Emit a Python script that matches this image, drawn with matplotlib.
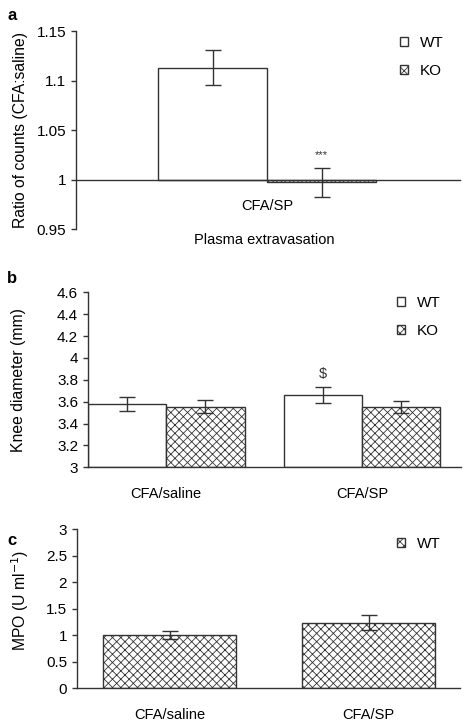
import matplotlib
matplotlib.use('Agg')
import matplotlib.pyplot as plt
from matplotlib.patches import Patch

plt.rcParams['font.family'] = ['Liberation Sans', 'DejaVu Sans']
plt.rcParams['hatch.linewidth'] = 0.6

EDGE = '#333333'

# Panel a: plasma extravasation ratio
a_groups = ['WT', 'KO']
a_vals = [1.113, 0.997]
a_err_hi = [0.018, 0.015]
a_err_lo = [0.018, 0.015]
a_yticks = [0.95, 1.0, 1.05, 1.1, 1.15]
a_yticklabels = ['0.95', '1', '1.05', '1.1', '1.15']

# Panel b: knee diameter
b_cats = ['CFA/saline', 'CFA/SP']
b_wt = [3.579, 3.661]
b_wt_err = [0.067, 0.07]
b_ko = [3.554, 3.554]
b_ko_err = [0.058, 0.053]
b_yticks = [3, 3.2, 3.4, 3.6, 3.8, 4, 4.2, 4.4, 4.6]
b_yticklabels = ['3', '3.2', '3.4', '3.6', '3.8', '4', '4.2', '4.4', '4.6']

# Panel c: MPO
c_cats = ['CFA/saline', 'CFA/SP']
c_wt = [1.0, 1.24]
c_wt_err = [0.078, 0.142]
c_yticks = [0, 0.5, 1, 1.5, 2, 2.5, 3]
c_yticklabels = ['0', '0.5', '1', '1.5', '2', '2.5', '3']

FS = 10.5     # category / x labels
TFS = 11      # tick labels and legends
LFS = 11.3    # y labels


def style_axis(ax):
    ax.spines['top'].set_visible(False)
    ax.spines['right'].set_visible(False)
    for s in ('left', 'bottom'):
        ax.spines[s].set_color(EDGE)
        ax.spines[s].set_linewidth(1.0)
    ax.tick_params(axis='y', direction='out', length=3.6, width=1, color=EDGE,
                   labelsize=TFS, pad=3.5)
    ax.tick_params(axis='x', length=0, labelsize=FS, pad=14)


def add_legend(ax, handles, x_px, y_px):
    ax.legend(handles=handles, loc='upper left',
              bbox_to_anchor=(x_px / 468, 1 - y_px / 722),
              bbox_transform=fig.transFigure, frameon=False, fontsize=TFS,
              borderpad=0, borderaxespad=0, handlelength=0.55,
              handleheight=0.55, handletextpad=0.75, labelspacing=0.9)


fig = plt.figure(figsize=(4.68, 7.22), dpi=100)

wt_patch = Patch(facecolor='white', edgecolor=EDGE, label='WT')
ko_patch = Patch(facecolor='white', edgecolor=EDGE, hatch='xxxx', label='KO')

# ---------------- panel a ----------------
ax1 = fig.add_axes([0.1624, 0.6828, 0.8206, 0.2742])
w = 0.4
ax1.bar(1 - w / 2, a_vals[0] - 1, width=w, bottom=1, color='white',
        edgecolor=EDGE, linewidth=1)
ax1.bar(1 + w / 2, a_vals[1] - 1, width=w, bottom=1, color='white',
        edgecolor=EDGE, linewidth=1, hatch='xxxx')
ax1.errorbar([1 - w / 2, 1 + w / 2], a_vals, yerr=[a_err_lo, a_err_hi],
             fmt='none', ecolor=EDGE, elinewidth=1, capsize=6, capthick=1)
ax1.text(1 + w / 2, a_vals[1] + a_err_hi[1] + 0.008, '***', ha='center',
         va='bottom', fontsize=8, color=EDGE)
ax1.set_xlim(0.299, 1.708)
ax1.set_ylim(0.95, 1.15)
ax1.set_yticks(a_yticks)
ax1.set_yticklabels(a_yticklabels)
ax1.set_xticks([1])
ax1.set_xticklabels(['CFA/SP'])
style_axis(ax1)
ax1.spines['bottom'].set_position(('data', 1.0))
ax1.set_ylabel('Ratio of counts (CFA:saline)', fontsize=LFS)
ax1.yaxis.set_label_coords(-0.125, 0.5)
fig.text(0.565, 1 - 240 / 722, 'Plasma extravasation', ha='center',
         va='center', fontsize=FS)
add_legend(ax1, [wt_patch, ko_patch], 400, 36)
fig.text(0.015, 1 - 20 / 722, 'a', fontsize=12, fontweight='bold',
         va='baseline')

# ---------------- panel b ----------------
ax2 = fig.add_axes([0.188, 0.3528, 0.797, 0.2423])
xb = [1, 2]
bw = 0.4
ax2.bar([x - bw / 2 for x in xb], [v - 3 for v in b_wt], width=bw, bottom=3,
        color='white', edgecolor=EDGE, linewidth=1)
ax2.bar([x + bw / 2 for x in xb], [v - 3 for v in b_ko], width=bw, bottom=3,
        color='white', edgecolor=EDGE, linewidth=1, hatch='xxxx')
ax2.errorbar([x - bw / 2 for x in xb], b_wt, yerr=b_wt_err, fmt='none',
             ecolor=EDGE, elinewidth=1, capsize=6, capthick=1)
ax2.errorbar([x + bw / 2 for x in xb], b_ko, yerr=b_ko_err, fmt='none',
             ecolor=EDGE, elinewidth=1, capsize=6, capthick=1)
ax2.text(xb[1] - bw / 2, b_wt[1] + b_wt_err[1] + 0.06, r'\$', ha='center',
         va='bottom', fontsize=FS, color=EDGE)
ax2.set_xlim(0.6, 2.505)
ax2.set_ylim(3, 4.6)
ax2.set_yticks(b_yticks)
ax2.set_yticklabels(b_yticklabels)
ax2.set_xticks(xb)
ax2.set_xticklabels(b_cats)
style_axis(ax2)
ax2.set_ylabel('Knee diameter (mm)', fontsize=LFS)
ax2.yaxis.set_label_coords(-0.165, 0.5)
add_legend(ax2, [wt_patch, ko_patch], 397, 296)
fig.text(0.015, 1 - 283 / 722, 'b', fontsize=12, fontweight='bold',
         va='baseline')

# ---------------- panel c ----------------
ax3 = fig.add_axes([0.1645, 0.0467, 0.8185, 0.2202])
xc = [1, 2]
ax3.bar(xc, c_wt, width=0.67, color='white', edgecolor=EDGE, linewidth=1,
        hatch='xxxx')
ax3.errorbar(xc, c_wt, yerr=c_wt_err, fmt='none', ecolor=EDGE,
             elinewidth=1, capsize=6, capthick=1)
ax3.set_xlim(0.535, 2.46)
ax3.set_ylim(0, 3)
ax3.set_yticks(c_yticks)
ax3.set_yticklabels(c_yticklabels)
ax3.set_xticks(xc)
ax3.set_xticklabels(c_cats)
style_axis(ax3)
ax3.set_ylabel('MPO (U ml$^{-1}$)', fontsize=LFS)
ax3.yaxis.set_label_coords(-0.12, 0.55)
add_legend(ax3, [Patch(facecolor='white', edgecolor=EDGE, hatch='xxxx',
                       label='WT')], 397, 537)
fig.text(0.015, 1 - 545 / 722, 'c', fontsize=12, fontweight='bold',
         va='baseline')

fig.savefig('out.png', dpi=100)
